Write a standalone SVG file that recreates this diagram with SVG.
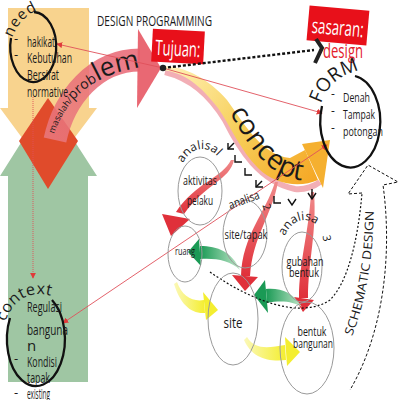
<svg xmlns="http://www.w3.org/2000/svg" width="400" height="400" viewBox="0 0 400 400">
<defs>
<style>
.t{font-family:"Open Sans","Liberation Sans",sans-serif;fill:#1a1a1a}
.c{fill:none;stroke:#9a9a9a;stroke-width:1}
.bk{fill:none;stroke:#111;stroke-width:2.3}
.rl{stroke:#e0505a;stroke-width:0.9;fill:none}
.ch{fill:none;stroke:#111;stroke-width:1.4}
</style>
<marker id="ah" viewBox="0 0 8 8" refX="7" refY="4" markerWidth="6" markerHeight="6" markerUnits="userSpaceOnUse" orient="auto-start-reverse"><path d="M0,0 L8,4 L0,8 z" fill="#e03a3a"/></marker>
<linearGradient id="pg" gradientUnits="userSpaceOnUse" x1="50" y1="150" x2="160" y2="60"><stop offset="0" stop-color="#e97a80"/><stop offset="1" stop-color="#e86070"/></linearGradient>
<linearGradient id="cg" gradientUnits="userSpaceOnUse" x1="165" y1="68" x2="320" y2="180"><stop offset="0" stop-color="#fff2b8"/><stop offset="0.5" stop-color="#f7cf5a"/><stop offset="1" stop-color="#f5a623"/></linearGradient>
<linearGradient id="rg" x1="0" y1="0" x2="0" y2="1"><stop offset="0" stop-color="#f08a8a"/><stop offset="1" stop-color="#e0303a"/></linearGradient>
<linearGradient id="gg" x1="1" y1="0" x2="0" y2="0"><stop offset="0" stop-color="#bfe6c8"/><stop offset="1" stop-color="#1a9a55"/></linearGradient>
<linearGradient id="yg" x1="0" y1="0" x2="1" y2="0"><stop offset="0" stop-color="#fbf8b8"/><stop offset="1" stop-color="#f4ee30"/></linearGradient>
<path id="pp" d="M 54 134 C 66 98, 95 72, 150 66"/>
<path id="cp" d="M 226 106 C 245 140, 265 176, 300 180 S 318 172, 326 164"/>
<path id="np" d="M 12 38 Q 22 12 46 8"/>
<path id="fp" d="M 321 104 Q 330 76 362 70"/>
<path id="xp" d="M 5 322 Q 20 284 58 298"/>
<path id="a1" d="M 183 163 A 24 34 0 0 1 224 168"/>
<path id="a3" d="M 285 236 A 22 30 0 0 1 322 232"/>
<path id="sp" d="M 352 336 Q 373 285 374 205"/>
</defs>
<rect width="400" height="400" fill="#fff"/>

<!-- big background arrows -->
<polygon points="8,8 89,8 89,108 97,108 48,173 0,108 8,108" fill="#f8d38e"/>
<polygon points="48,100 97,176 88,176 88,382 8,382 8,176 0,176" fill="#9fc6a3"/>
<polygon points="48,98 78,141 48,189 19,141" fill="#e04b2b"/>

<!-- problem arrow -->
<path d="M 55 140 C 64 98, 95 60, 140 60" fill="none" stroke="url(#pg)" stroke-width="23" opacity="0.85"/>
<polygon points="138,29 161,68 137,108" fill="#e8606c" opacity="0.95"/>
<text class="t" font-size="9"><textPath href="#pp">masalah/<tspan font-size="14">prob</tspan><tspan font-size="26">lem</tspan></textPath></text>

<!-- concept arrow -->
<path d="M 165 72 C 190 78, 210 95, 225 120 C 240 150, 260 182, 295 189 C 305 190, 315 186, 320 182" fill="none" stroke="#f0a0a8" stroke-width="6" opacity="0.85"/>
<path d="M 163 66 C 185 66, 210 80, 227 100 C 245 125, 262 155, 290 158 L 305 150 L 318 180 C 300 188, 275 185, 258 168 C 240 150, 230 125, 218 108 C 200 85, 185 73, 163 70 Z" fill="url(#cg)"/>
<polygon points="302,144 330,140 323,188" fill="#f5b030"/>
<text class="t" font-size="28" fill="#222"><textPath href="#cp" startOffset="7">concept</textPath></text>

<text class="t" x="97" y="26" font-size="15" textLength="115" lengthAdjust="spacingAndGlyphs">DESIGN PROGRAMMING</text>

<g id="tujuan" transform="rotate(3 178 47)">
<rect x="152" y="30" width="52" height="33" fill="#e8101a"/>
<text x="178" y="56" text-anchor="middle" font-family="Open Sans, Liberation Sans, sans-serif" font-size="21" fill="#fff" textLength="45" lengthAdjust="spacingAndGlyphs">Tujuan:</text>
</g>
<g id="sasaran" transform="rotate(5 338 25)">
<rect x="308" y="8" width="60" height="35" fill="#e8101a"/>
<text x="338" y="35" text-anchor="middle" font-family="Open Sans, Liberation Sans, sans-serif" font-size="21" fill="#fff" textLength="52" lengthAdjust="spacingAndGlyphs">sasaran:</text>
</g>
<text x="323" y="58" font-family="Open Sans, Liberation Sans, sans-serif" font-size="20" fill="#e3202c" textLength="40" lengthAdjust="spacingAndGlyphs">design</text>

<!-- connectors -->
<g id="connectors">
<line x1="163" y1="68" x2="314" y2="50" stroke="#111" stroke-width="2.4" stroke-dasharray="3 2"/>
<polyline points="316,39 322,48 315,63" fill="none" stroke="#222" stroke-width="4"/>
<line class="rl" x1="163" y1="68" x2="57" y2="44" marker-end="url(#ah)"/>
<line class="rl" x1="163" y1="68" x2="322" y2="113" marker-end="url(#ah)"/>
<line class="rl" x1="327" y1="145" x2="63" y2="323" marker-start="url(#ah)" marker-end="url(#ah)"/>
<line class="rl" x1="33" y1="97" x2="33" y2="278" stroke-dasharray="1 1" marker-end="url(#ah)"/>

<!-- red arrows -->
<path d="M 234 160 C 230 180, 205 184, 184 214 L 176 212 C 195 183, 222 178, 231 160 Z" fill="url(#rg)"/>
<polygon points="162,214 190,219 171,236" fill="#e0303a"/>
<path d="M 278 182 C 272 215, 252 238, 250 276 L 241 276 C 242 236, 266 212, 275 182 Z" fill="url(#rg)"/>
<polygon points="232,275 258,277 245,291" fill="#e0303a"/>
<path d="M 314 192 C 317 232, 308 262, 308 298 L 299 298 C 299 262, 309 232, 311 192 Z" fill="url(#rg)"/>
<polygon points="294,297 314,300 303,312" fill="#e0303a"/>

<!-- green arrows -->
<path d="M 240 270 C 232 252, 218 246, 200 246 L 200 259 C 215 258, 230 260, 240 270 Z" fill="url(#gg)"/>
<polygon points="199,239 188,252 201,266" fill="#1a9a55"/>
<path d="M 302 307 C 292 292, 282 288, 266 289 L 267 303 C 282 300, 294 302, 302 307 Z" fill="url(#gg)"/>
<polygon points="265,280 254,295 268,313" fill="#1a9a55"/>

<!-- yellow arrows -->
<path d="M 177 282 C 182 296, 192 302, 204 300 L 205 313 C 190 314, 180 303, 174 284 Z" fill="url(#yg)"/>
<polygon points="203,292 218,310 206,320" fill="#f4ee30"/>
<path d="M 247 337 C 255 350, 268 348, 285 345 L 286 360 C 268 362, 252 358, 244 340 Z" fill="url(#yg)"/>
<polygon points="285,337 300,352 287,366" fill="#f4ee30"/>

<!-- small chevrons -->
<polyline class="ch" points="228,143 228,149 234,149"/><line class="ch" x1="228" y1="149" x2="234" y2="143"/>
<polyline class="ch" points="235,155 235,162 242,162"/>
<polyline class="ch" points="245,168 245,175 252,175"/>
<polyline class="ch" points="256,180 256,187 263,187"/><line class="ch" x1="256" y1="187" x2="262" y2="181"/>
<polyline class="ch" points="274,196 274,203 281,203"/>
<polyline class="ch" points="288,199 292,205 296,199"/>
<polyline class="ch" points="308,193 312,199 316,193"/><line class="ch" x1="312" y1="199" x2="312" y2="189"/>

<!-- schematic design arrow -->
<path d="M 210 272 C 250 300, 300 320, 330 300 C 348 282, 358 240, 362 193" fill="none" stroke="#111" stroke-width="1.2" stroke-dasharray="2 2"/>
<path d="M 362 193 L 348 194 L 368 165 L 398 182 L 383 185 C 392 250, 385 330, 350 390" fill="none" stroke="#111" stroke-width="1" stroke-dasharray="3 2"/>
</g>
<text class="t" font-size="12"><textPath href="#sp" textLength="128" lengthAdjust="spacingAndGlyphs">SCHEMATIC  DESIGN</textPath></text>

<!-- need -->
<g id="need">
<path class="bk" d="M 34 12 A 23 35 0 1 1 11 38"/>
<text class="t" font-size="15" letter-spacing="1"><textPath href="#np">need</textPath></text>
<text class="t" x="14" y="43" font-size="13">-</text>
<text class="t" x="14" y="59" font-size="13">-</text>
<text class="t" x="27" y="47" font-size="14" textLength="28" lengthAdjust="spacingAndGlyphs">hakikat</text>
<text class="t" x="27" y="63" font-size="14" textLength="45" lengthAdjust="spacingAndGlyphs">Kebutuhan</text>
<text class="t" x="27" y="80" font-size="14" textLength="32" lengthAdjust="spacingAndGlyphs">Bersifat</text>
<text class="t" x="27" y="97" font-size="14" textLength="41" lengthAdjust="spacingAndGlyphs">normative</text>
</g>

<!-- form -->
<g id="form">
<path class="bk" d="M 355 76 A 30 46 0 1 1 322 106" stroke-width="2.6"/>
<text class="t" font-size="19"><textPath href="#fp">FORM</textPath></text>
<text class="t" x="331" y="98" font-size="12">-</text>
<text class="t" x="331" y="115" font-size="12">-</text>
<text class="t" x="331" y="132" font-size="12">-</text>
<text class="t" x="343" y="102" font-size="13" textLength="27" lengthAdjust="spacingAndGlyphs">Denah</text>
<text class="t" x="343" y="119" font-size="13" textLength="32" lengthAdjust="spacingAndGlyphs">Tampak</text>
<text class="t" x="343" y="136" font-size="13" textLength="40" lengthAdjust="spacingAndGlyphs">potongan</text>
</g>

<!-- context -->
<g id="context">
<path class="bk" d="M 52 300 A 29 47 0 1 1 10 318"/>
<text class="t" font-size="16" letter-spacing="0.5"><textPath href="#xp">context</textPath></text>
<text class="t" x="27" y="312" font-size="14" textLength="35" lengthAdjust="spacingAndGlyphs">Regulasi</text>
<text class="t" x="27" y="335" font-size="15" textLength="41" lengthAdjust="spacingAndGlyphs">banguna</text>
<text class="t" x="27" y="351" font-size="15">n</text>
<text class="t" x="14" y="363" font-size="13">-</text>
<text class="t" x="27" y="367" font-size="14" textLength="30" lengthAdjust="spacingAndGlyphs">Kondisi</text>
<text class="t" x="27" y="383" font-size="14" textLength="23" lengthAdjust="spacingAndGlyphs">tapak</text>
<text class="t" x="14" y="397" font-size="13">-</text>
<text class="t" x="27" y="399" font-size="14" textLength="23" lengthAdjust="spacingAndGlyphs">existing</text>
</g>

<!-- analysis nodes -->
<g id="aktivitas">
<ellipse class="c" cx="200" cy="191" rx="22" ry="34"/>
<text class="t" font-size="12"><textPath href="#a1">analisal</textPath></text>
<text class="t" x="200" y="185" font-size="13" text-anchor="middle" textLength="34" lengthAdjust="spacingAndGlyphs">aktivitas</text>
<text class="t" x="200" y="205" font-size="13" text-anchor="middle" textLength="26" lengthAdjust="spacingAndGlyphs">pelaku</text>
</g>
<g id="site-tapak">
<ellipse class="c" cx="245" cy="234" rx="22" ry="34"/>
<text class="t" font-size="12" transform="rotate(-20 244 200)" x="228" y="204" textLength="32" lengthAdjust="spacingAndGlyphs">analisa</text>
<text class="t" font-size="11" transform="rotate(70 266 207)" x="263" y="210">2</text>
<text class="t" x="246" y="239" font-size="13" text-anchor="middle" textLength="43" lengthAdjust="spacingAndGlyphs">site/tapak</text>
</g>
<g id="gubahan">
<ellipse class="c" cx="302" cy="267" rx="20" ry="35"/>
<text class="t" font-size="12"><textPath href="#a3">analisa</textPath></text>
<text class="t" font-size="11" transform="rotate(80 327 238)" x="324" y="242">3</text>
<text class="t" x="305" y="266" font-size="13" text-anchor="middle" textLength="37" lengthAdjust="spacingAndGlyphs">gubahan</text>
<text class="t" x="304" y="277" font-size="13" text-anchor="middle" textLength="30" lengthAdjust="spacingAndGlyphs">bentuk</text>
</g>
<g id="ruang">
<ellipse class="c" cx="185" cy="254" rx="17" ry="28"/>
<text class="t" x="185" y="255" font-size="10" text-anchor="middle" textLength="20" lengthAdjust="spacingAndGlyphs">ruang</text>
</g>
<g id="site">
<ellipse class="c" cx="233" cy="319" rx="25" ry="46"/>
<text class="t" x="233" y="328" font-size="15" text-anchor="middle" textLength="19" lengthAdjust="spacingAndGlyphs">site</text>
</g>
<g id="bentuk">
<ellipse class="c" cx="307" cy="348" rx="27" ry="46"/>
<text class="t" x="312" y="336" font-size="12" text-anchor="middle" textLength="29" lengthAdjust="spacingAndGlyphs">bentuk</text>
<text class="t" x="313" y="348" font-size="12" text-anchor="middle" textLength="40" lengthAdjust="spacingAndGlyphs">bangunan</text>
</g>

<circle cx="163" cy="68" r="3.2" fill="#222"/>
</svg>
